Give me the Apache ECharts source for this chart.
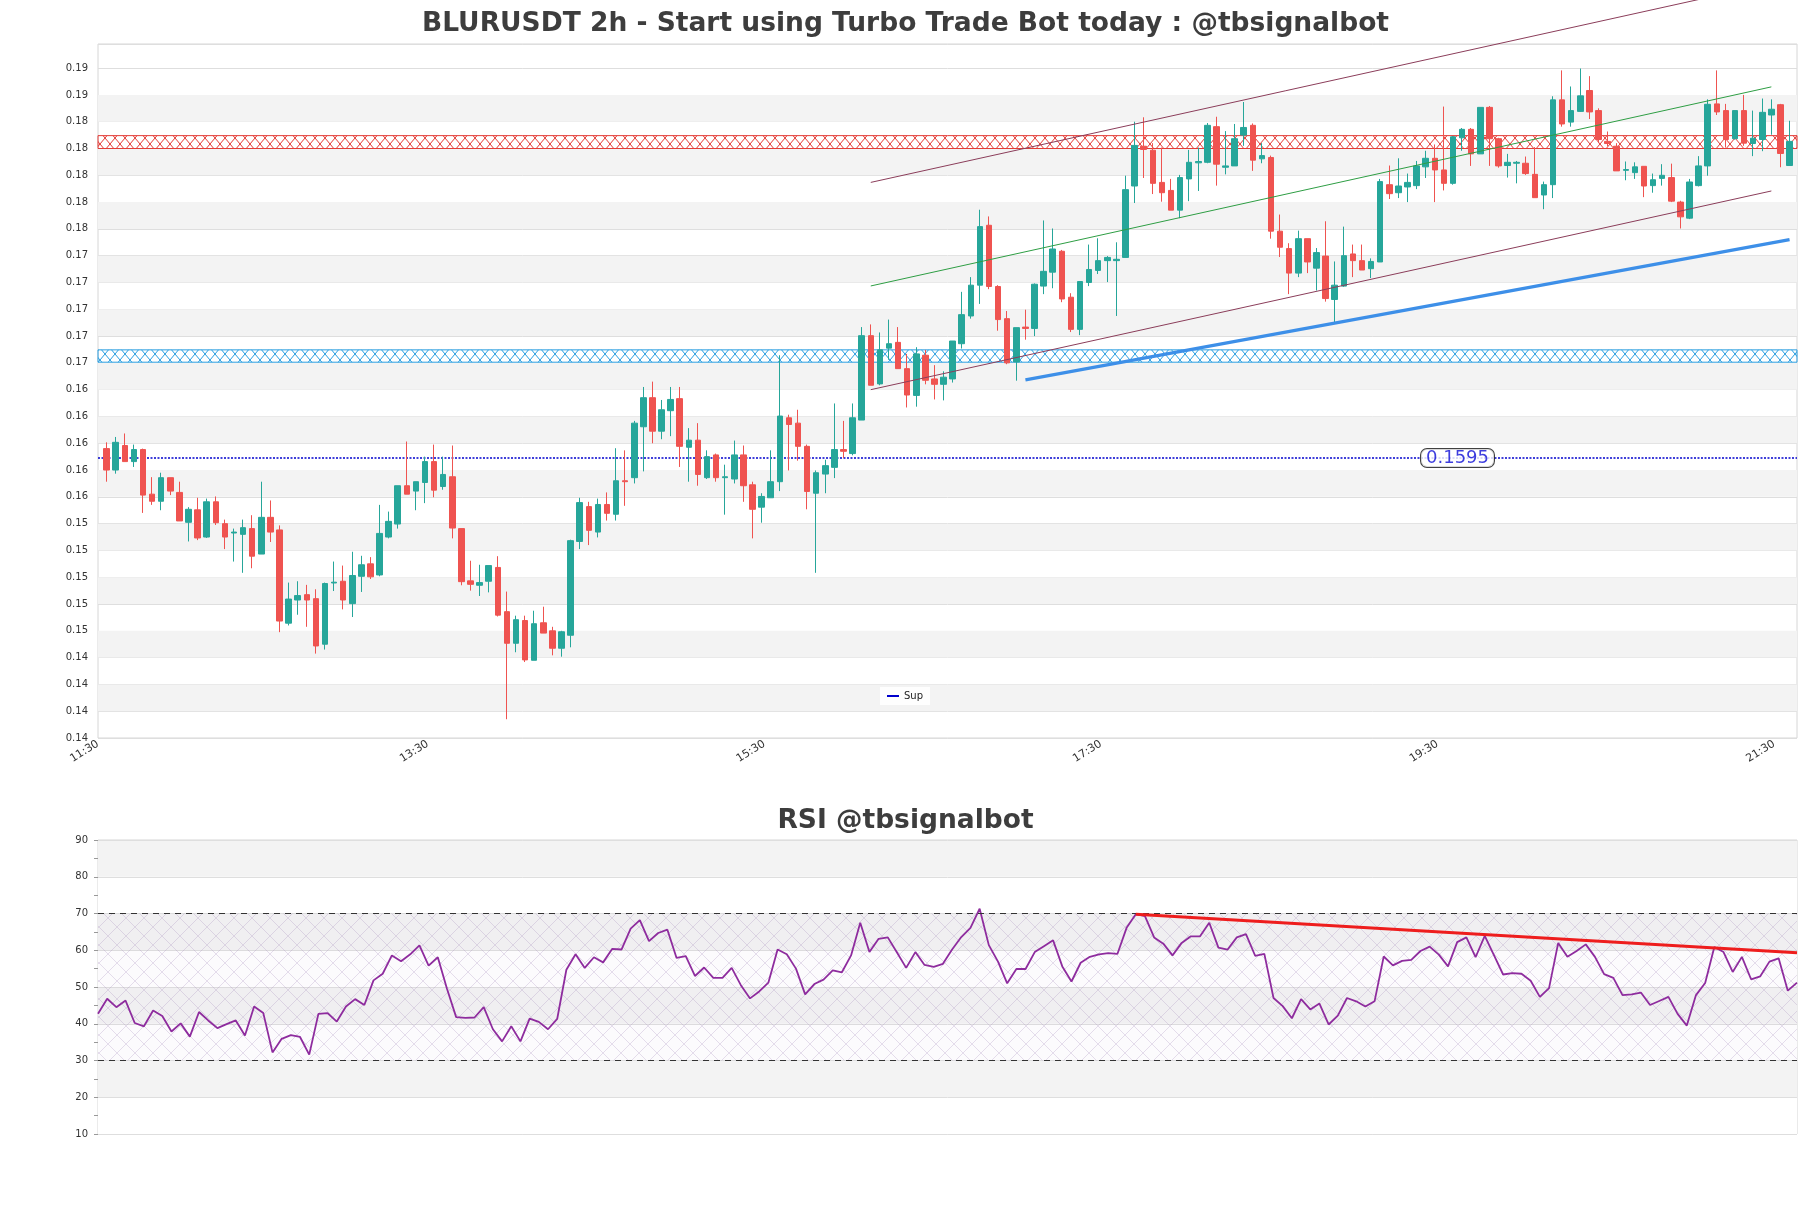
<!DOCTYPE html>
<html><head><meta charset="utf-8">
<script src="https://cdn.jsdelivr.net/npm/echarts@6/dist/echarts.min.js"></script>
<style>html,body{margin:0;padding:0;background:#fff}#c{width:1811px;height:1208px}</style>
</head><body><div id="c"></div>
<script>
// ---------------- data ----------------
const candleOpen = [
0.16020,0.15860,0.16043,0.15923,0.16013,0.15680,0.15627,0.15803,0.15693,0.15470,
0.15563,0.15360,0.15623,0.15460,0.15390,0.15380,0.15423,0.15233,0.15507,0.15413,
0.14717,0.14890,0.14930,0.14900,0.14560,0.15017,0.15030,0.14863,0.15067,0.15160,
0.15077,0.15360,0.15457,0.15743,0.15703,0.15767,0.15923,0.15737,0.15810,0.15423,
0.15033,0.15000,0.15030,0.15133,0.14803,0.14567,0.14737,0.14440,0.14720,0.14660,
0.14530,0.14627,0.15327,0.15587,0.15397,0.15603,0.15530,0.15780,0.15803,0.16183,
0.16400,0.16150,0.16303,0.16393,0.16030,0.16083,0.15803,0.15973,0.15803,0.15793,
0.15973,0.15750,0.15583,0.15653,0.15773,0.16250,0.16210,0.16037,0.15687,0.15830,
0.15880,0.16013,0.15983,0.16233,0.16863,0.16503,0.16770,0.16813,0.16617,0.16417,
0.16717,0.16540,0.16500,0.16540,0.16803,0.17010,0.17240,0.17687,0.17230,0.16990,
0.16667,0.16927,0.16917,0.17233,0.17337,0.17493,0.17150,0.16910,0.17260,0.17350,
0.17423,0.17423,0.17447,0.17980,0.18277,0.18247,0.18007,0.17947,0.17800,0.18033,
0.18153,0.18157,0.18423,0.18120,0.18130,0.18360,0.18433,0.18183,0.18193,0.17643,
0.17513,0.17330,0.17587,0.17367,0.17457,0.17133,0.17233,0.17473,0.17423,0.17363,
0.17413,0.17990,0.17930,0.17973,0.17983,0.18123,0.18187,0.18100,0.18000,0.18340,
0.18403,0.18220,0.18567,0.18333,0.18133,0.18150,0.18150,0.18067,0.17913,0.17990,
0.18623,0.18457,0.18537,0.18693,0.18543,0.18313,0.18277,0.18097,0.18080,0.18127,
0.17983,0.18037,0.18043,0.17860,0.17740,0.17983,0.18130,0.18593,0.18543,0.18333,
0.18543,0.18297,0.18327,0.18510,0.18587,0.18133];
const candleClose = [
0.15860,0.16067,0.15923,0.16013,0.15673,0.15627,0.15803,0.15703,0.15480,0.15567,
0.15353,0.15623,0.15467,0.15360,0.15397,0.15430,0.15217,0.15507,0.15397,0.14733,
0.14897,0.14923,0.14890,0.14547,0.15013,0.15023,0.14890,0.15073,0.15153,0.15063,
0.15387,0.15477,0.15743,0.15680,0.15773,0.15923,0.15710,0.15827,0.15427,0.15027,
0.15007,0.15020,0.15147,0.14777,0.14567,0.14743,0.14443,0.14713,0.14643,0.14530,
0.14653,0.15333,0.15617,0.15410,0.15603,0.15537,0.15780,0.15773,0.16210,0.16400,
0.16150,0.16310,0.16387,0.16037,0.16083,0.15827,0.15960,0.15803,0.15810,0.15973,
0.15743,0.15567,0.15663,0.15773,0.16263,0.16200,0.16037,0.15700,0.15840,0.15893,
0.16013,0.16000,0.16250,0.16863,0.16493,0.16757,0.16803,0.16617,0.16420,0.16727,
0.16530,0.16500,0.16553,0.16823,0.17020,0.17240,0.17677,0.17230,0.16983,0.16660,
0.16923,0.16917,0.17247,0.17343,0.17510,0.17137,0.16910,0.17267,0.17357,0.17423,
0.17447,0.17433,0.17953,0.18283,0.18253,0.18000,0.17930,0.17800,0.18043,0.18157,
0.18163,0.18433,0.18143,0.18130,0.18333,0.18417,0.18173,0.18207,0.17643,0.17523,
0.17330,0.17587,0.17413,0.17483,0.17140,0.17240,0.17460,0.17423,0.17353,0.17417,
0.18013,0.17923,0.17980,0.18007,0.18130,0.18187,0.18100,0.18000,0.18347,0.18403,
0.18220,0.18567,0.18333,0.18130,0.18157,0.18157,0.18073,0.17893,0.17990,0.18623,
0.18443,0.18543,0.18653,0.18533,0.18327,0.18297,0.18093,0.18103,0.18123,0.17980,
0.18027,0.18060,0.17867,0.17750,0.18010,0.18130,0.18590,0.18533,0.18327,0.18543,
0.18300,0.18337,0.18530,0.18553,0.18223,0.18313];
const candleHigh = [
0.16067,0.16107,0.16133,0.16050,0.16020,0.15807,0.15840,0.15803,0.15773,0.15583,
0.15653,0.15647,0.15663,0.15490,0.15423,0.15490,0.15523,0.15773,0.15633,0.15447,
0.15020,0.15030,0.15003,0.14970,0.15020,0.15177,0.15147,0.15250,0.15220,0.15210,
0.15600,0.15550,0.15743,0.16073,0.15773,0.15960,0.16050,0.15960,0.16043,0.15423,
0.15183,0.15153,0.15147,0.15217,0.14953,0.14773,0.14773,0.14810,0.14840,0.14690,
0.14660,0.15340,0.15653,0.15623,0.15647,0.15693,0.16023,0.16007,0.16227,0.16480,
0.16520,0.16383,0.16480,0.16480,0.16173,0.16210,0.16007,0.15983,0.15900,0.16080,
0.16043,0.15773,0.15687,0.16007,0.16717,0.16273,0.16310,0.16050,0.15857,0.15937,
0.16357,0.16227,0.16357,0.16927,0.16947,0.16887,0.16983,0.16927,0.16727,0.16777,
0.16757,0.16643,0.16597,0.16823,0.17190,0.17300,0.17803,0.17753,0.17240,0.17047,
0.16923,0.17057,0.17253,0.17723,0.17663,0.17503,0.17180,0.17267,0.17543,0.17590,
0.17457,0.17560,0.18057,0.18460,0.18493,0.18300,0.18267,0.18033,0.18063,0.18250,
0.18267,0.18450,0.18497,0.18390,0.18443,0.18607,0.18447,0.18300,0.18207,0.17767,
0.17553,0.17647,0.17587,0.17517,0.17717,0.17417,0.17677,0.17543,0.17543,0.17440,
0.18033,0.18133,0.18187,0.18073,0.18167,0.18243,0.18290,0.18573,0.18353,0.18413,
0.18413,0.18567,0.18577,0.18340,0.18220,0.18167,0.18200,0.18270,0.18013,0.18650,
0.18843,0.18723,0.18857,0.18800,0.18560,0.18387,0.18300,0.18163,0.18157,0.18127,
0.18073,0.18143,0.18147,0.17870,0.18033,0.18203,0.18627,0.18843,0.18593,0.18543,
0.18660,0.18543,0.18633,0.18627,0.18593,0.18467];
const candleLow = [
0.15773,0.15833,0.15923,0.15883,0.15540,0.15600,0.15560,0.15673,0.15480,0.15327,
0.15337,0.15353,0.15450,0.15270,0.15177,0.15093,0.15127,0.15233,0.15323,0.14650,
0.14700,0.14780,0.14690,0.14490,0.14520,0.14957,0.14820,0.14763,0.14950,0.15047,
0.15067,0.15350,0.15423,0.15680,0.15560,0.15613,0.15657,0.15713,0.15350,0.15000,
0.14960,0.14920,0.14947,0.14767,0.14000,0.14500,0.14427,0.14440,0.14643,0.14477,
0.14467,0.14537,0.15270,0.15300,0.15357,0.15483,0.15483,0.15593,0.15760,0.15850,
0.16060,0.16090,0.16113,0.15883,0.15773,0.15743,0.15793,0.15773,0.15527,0.15760,
0.15623,0.15350,0.15467,0.15653,0.15703,0.15857,0.15930,0.15567,0.15093,0.15687,
0.15800,0.15950,0.15970,0.16233,0.16493,0.16493,0.16683,0.16617,0.16327,0.16333,
0.16500,0.16387,0.16380,0.16513,0.16767,0.16990,0.17100,0.17210,0.16900,0.16650,
0.16527,0.16833,0.16860,0.17173,0.17217,0.17113,0.16890,0.16867,0.17233,0.17323,
0.17263,0.17010,0.17447,0.17853,0.18040,0.17920,0.17863,0.17800,0.17740,0.17867,
0.17943,0.18150,0.17983,0.18067,0.18130,0.18280,0.18093,0.18150,0.17587,0.17450,
0.17173,0.17300,0.17330,0.17200,0.17117,0.16963,0.17227,0.17300,0.17353,0.17293,
0.17413,0.17883,0.17890,0.17860,0.17957,0.18040,0.17860,0.17947,0.17990,0.18243,
0.18130,0.18220,0.18130,0.18117,0.18043,0.18000,0.18063,0.17893,0.17807,0.17890,
0.18423,0.18423,0.18533,0.18480,0.18300,0.18277,0.18093,0.18023,0.18033,0.17897,
0.17930,0.17983,0.17860,0.17663,0.17733,0.17977,0.18057,0.18510,0.18267,0.18327,
0.18280,0.18203,0.18240,0.18363,0.18120,0.18133];
const rsiValues = [
42.7,46.8,44.5,46.3,40.2,39.3,43.6,42.1,37.9,40.1,
36.5,43.2,40.9,38.8,39.9,40.9,36.8,44.7,42.9,32.2,
35.9,36.9,36.4,31.6,42.7,42.9,40.6,44.7,46.7,45.1,
51.8,53.6,58.6,57.0,58.9,61.3,55.8,58.1,49.5,41.8,
41.6,41.7,44.5,38.5,35.2,39.3,35.2,41.4,40.5,38.5,
41.3,54.7,58.9,55.2,58.1,56.7,60.4,60.2,65.9,68.2,
62.5,64.7,
65.6,57.9,58.4,53.0,55.3,52.5,52.5,55.2,50.5,46.9,
48.8,51.2,60.2,58.9,55.0,48.0,50.8,52.0,54.5,54.0,
58.6,67.5,59.5,63.1,63.5,59.4,55.2,59.5,56.0,55.5,
56.3,60.2,63.6,66.1,71.3,61.4,56.9,51.0,54.9,54.9,
59.5,61.1,62.7,55.6,51.5,56.6,58.2,58.9,59.2,59.0,
66.1,69.8,69.3,63.5,61.8,58.6,62.0,63.8,63.8,67.5,
60.7,60.2,
63.5,64.4,58.5,59.0,47.0,44.8,41.5,46.7,43.9,45.5,
39.8,42.2,47.0,46.1,44.7,46.1,58.3,55.9,57.1,57.4,
59.8,61.0,58.8,55.6,62.2,63.5,58.1,63.9,58.7,53.4,
53.8,53.6,51.7,47.3,49.7,62.0,58.2,59.8,61.6,58.2,
53.5,52.5,47.8,48.0,48.5,45.1,46.2,47.3,42.7,39.5,
47.8,51.1,60.9,59.5,54.1,58.2,52.1,52.9,56.9,57.8,
49.0,51.2];
const xTickIndex = [-1.5, 35.3, 72.3, 109.3, 146.3, 183.3];
const xTickLabels = ['11:30', '13:30', '15:30', '17:30', '19:30', '21:30'];
const supLevel = 0.1595;
const resistanceZone = [0.18260, 0.18356];
const supportZone = [0.16665, 0.16757];
const channelX = [84, 183];
const channelUpper = [0.18007, 0.19492];
const channelMiddle = [0.17234, 0.18720];
const channelLower = [0.16460, 0.17943];
const supTrendX = [101, 185];
const supTrendY = [0.16533, 0.17580];
const rsiTrendX = [113, 185];
const rsiTrendY = [69.8, 59.3];
const rsiLevels = [30, 70];

// ---------------- helpers ----------------
const X_MIN = -0.95, X_MAX = 185.82;
const Y_MIN = 0.1386, Y_MAX = 0.1904, Y_STEP = 0.002;

function hatch(color, w, h, lw, bg) {
  const c = document.createElement('canvas');
  c.width = w; c.height = h;
  const g = c.getContext('2d');
  if (bg) { g.fillStyle = bg; g.fillRect(0, 0, w, h); }
  g.strokeStyle = color; g.lineWidth = lw;
  g.beginPath();
  g.moveTo(0, 0); g.lineTo(w, h);
  g.moveTo(w, 0); g.lineTo(0, h);
  g.stroke();
  return c;
}
const redHatch = hatch('#e33b36', 10, 12, 1, null);
const blueHatch = hatch('#2a9ee0', 10, 12, 1, null);
const rsiHatch = hatch('rgba(160,130,185,0.32)', 18, 18, 0.8, 'rgba(200,180,225,0.06)');

const candleData = candleOpen.map((o, i) => [i, o, candleClose[i], candleLow[i], candleHigh[i]]);
const rsiData = rsiValues.map((v, i) => [i, v]);

const bandAreas = [];
for (let k = 1; ; k += 2) {
  const lo = Y_MIN + k * Y_STEP, hi = lo + Y_STEP;
  if (hi > Y_MAX - 1e-9) break;
  bandAreas.push([{ yAxis: lo }, { yAxis: hi }]);
}
const labelVals = xTickIndex.map(v => Math.max(v, X_MIN));

const chart = echarts.init(document.getElementById('c'), null, { renderer: 'canvas' });
const titleStyle = { fontFamily: 'DejaVu Sans', fontWeight: 'bold', fontSize: 26.5, color: '#3d3d3d' };
const option = {
  animation: false,
  backgroundColor: '#ffffff',
  textStyle: { fontFamily: 'DejaVu Sans' },
  title: [
    { text: 'BLURUSDT 2h - Start using Turbo Trade Bot today : @tbsignalbot', left: 'center', top: 6, textStyle: titleStyle },
    { text: 'RSI @tbsignalbot', left: 'center', top: 803, textStyle: titleStyle }
  ],
  legend: {
    data: [{ name: 'Sup', icon: 'rect' }], selectedMode: false,
    left: 880, top: 687, itemWidth: 12, itemHeight: 2, padding: [4, 7],
    backgroundColor: 'rgba(255,255,255,0.9)',
    textStyle: { fontSize: 10, color: '#222' }
  },
  grid: [
    { left: 98, top: 44, width: 1699, height: 694, show: true, borderColor: '#d6d6d6', borderWidth: 1 },
    { left: 98, top: 840, width: 1699, height: 294, show: true, borderColor: '#d6d6d6', borderWidth: 1 }
  ],
  xAxis: [
    { type: 'value', gridIndex: 0, min: X_MIN, max: X_MAX,
      splitLine: { show: false }, axisLine: { show: false }, axisTick: { show: false },
      axisLabel: { customValues: labelVals, rotate: 32, fontSize: 11, color: '#333', margin: 5,
        formatter: v => { const i = labelVals.findIndex(t => Math.abs(t - v) < 1e-6); return i >= 0 ? xTickLabels[i] : ''; } } },
    { type: 'value', gridIndex: 1, min: 0, max: rsiValues.length - 1, show: false }
  ],
  yAxis: [
    { type: 'value', gridIndex: 0, min: Y_MIN, max: Y_MAX, interval: Y_STEP, scale: true,
      axisLine: { show: false }, axisTick: { show: false },
      splitLine: { lineStyle: { color: '#dedede', width: 1 } },
      axisLabel: { fontSize: 10, color: '#333', margin: 10,
        formatter: v => (Math.abs(v - Y_MAX) < 1e-7 ? '' : v.toFixed(2)) } },
    { type: 'value', gridIndex: 1, min: 10, max: 90, interval: 10,
      axisLine: { show: false },
      axisTick: { show: true, length: 4, lineStyle: { color: '#999' } },
      minorTick: { show: true, splitNumber: 2, length: 4, lineStyle: { color: '#999' } },
      splitLine: { lineStyle: { color: '#dedede' } },
      splitArea: { show: true, areaStyle: { color: ['#ffffff', '#f3f3f3'] } },
      axisLabel: { fontSize: 10, color: '#333', margin: 10 } }
  ],
  series: [
    { name: 'bands', type: 'line', xAxisIndex: 0, yAxisIndex: 0, silent: true, symbol: 'none',
      data: [[X_MIN, Y_MIN], [X_MAX, Y_MIN]], lineStyle: { opacity: 0 }, z: 1,
      markArea: { silent: true, itemStyle: { color: '#f3f3f3' }, data: bandAreas } },
    { name: 'zones', type: 'line', xAxisIndex: 0, yAxisIndex: 0, silent: true, symbol: 'none',
      data: [[X_MIN, Y_MIN], [X_MAX, Y_MIN]], lineStyle: { opacity: 0 }, z: 2,
      markArea: { silent: true, data: [
        [{ yAxis: resistanceZone[0], itemStyle: { color: { image: redHatch, repeat: 'repeat' }, borderColor: '#e33b36', borderWidth: 1 } }, { yAxis: resistanceZone[1] }],
        [{ yAxis: supportZone[0], itemStyle: { color: { image: blueHatch, repeat: 'repeat' }, borderColor: '#2a9ee0', borderWidth: 1 } }, { yAxis: supportZone[1] }]
      ] } },
    { name: 'Sup', type: 'line', xAxisIndex: 0, yAxisIndex: 0, silent: true, symbol: 'none', z: 3,
      color: '#0000cd',
      data: [[X_MIN, supLevel], [X_MAX, supLevel]],
      lineStyle: { color: '#0000cd', width: 1.6, type: [2, 1.5] } },
    { name: 'price', type: 'candlestick', xAxisIndex: 0, yAxisIndex: 0, z: 4, barWidth: 6,
      data: candleData,
      itemStyle: { color: '#26a69a', color0: '#ef5350', borderColor: '#26a69a', borderColor0: '#ef5350', borderWidth: 1 } },
    { name: 'chUp', type: 'line', xAxisIndex: 0, yAxisIndex: 0, silent: true, symbol: 'none', z: 5, clip: false,
      data: channelX.map((x, i) => [x, channelUpper[i]]), lineStyle: { color: '#8b3d5a', width: 1 } },
    { name: 'chMid', type: 'line', xAxisIndex: 0, yAxisIndex: 0, silent: true, symbol: 'none', z: 5,
      data: channelX.map((x, i) => [x, channelMiddle[i]]), lineStyle: { color: '#2e9e44', width: 1 } },
    { name: 'chLow', type: 'line', xAxisIndex: 0, yAxisIndex: 0, silent: true, symbol: 'none', z: 5,
      data: channelX.map((x, i) => [x, channelLower[i]]), lineStyle: { color: '#8b3d5a', width: 1 } },
    { name: 'supTrend', type: 'line', xAxisIndex: 0, yAxisIndex: 0, silent: true, symbol: 'none', z: 5,
      data: supTrendX.map((x, i) => [x, supTrendY[i]]), lineStyle: { color: '#3d8fe8', width: 3.2 } },
    { name: 'supLabel', type: 'scatter', xAxisIndex: 0, yAxisIndex: 0, silent: true, z: 6,
      symbolSize: 0, data: [[148.5, supLevel]],
      label: { show: true, position: 'inside', formatter: () => supLevel.toFixed(4),
        fontSize: 18, color: '#0d0dd6', backgroundColor: '#ffffff', borderColor: '#111', borderWidth: 1,
        borderRadius: 6, padding: [0, 5], lineHeight: 18 } },
    { name: 'rsi', type: 'line', xAxisIndex: 1, yAxisIndex: 1, silent: true, symbol: 'none', z: 3,
      data: rsiData, lineStyle: { color: '#8e2c9e', width: 1.8 },
      markArea: { silent: true, data: [[{ yAxis: rsiLevels[0], itemStyle: { color: { image: rsiHatch, repeat: 'repeat' } } }, { yAxis: rsiLevels[1] }]] },
      markLine: { silent: true, symbol: 'none', label: { show: false },
        lineStyle: { color: '#333', width: 1.2, type: [6, 5] },
        data: rsiLevels.map(v => ({ yAxis: v })) } },
    { name: 'rsiTrend', type: 'line', xAxisIndex: 1, yAxisIndex: 1, silent: true, symbol: 'none', z: 6,
      data: rsiTrendX.map((x, i) => [x, rsiTrendY[i]]), lineStyle: { color: '#ee1d1d', width: 3 } }
  ]
};
chart.setOption(option);
</script>
</body></html>
